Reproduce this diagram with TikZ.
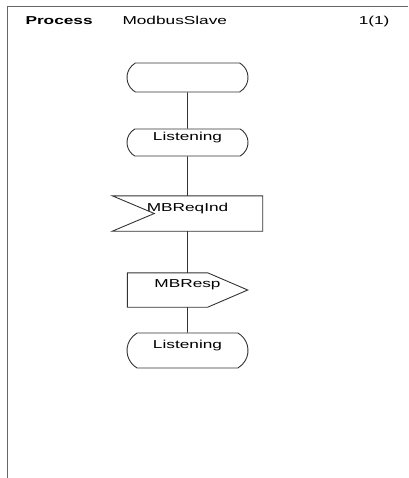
\documentclass[tikz,border=0pt]{standalone}
\usepackage{fontspec}
\setmainfont[FakeStretch=1.5]{Liberation Sans}
\usetikzlibrary{shapes.misc}

\tikzset{
  sdlline/.style={black!80, line width=0.9pt},
  state/.style={rounded rectangle, rounded rectangle arc length=120, draw=black!80,
    line width=0.9pt, minimum width=121pt, inner sep=0pt, text height=8.5pt, text depth=12pt},
  sigbox/.style={rectangle, inner sep=0pt, text height=8.5pt, text depth=13pt},
}

\begin{document}
\begin{tikzpicture}[x=1pt, y=-1pt, font=\fontsize{11.5}{14}\selectfont]
  % page setup
  \def\xmid{187.5}
  \useasboundingbox (0,0) rectangle (408,478);

  % frame
  \draw[black!60, line width=1.5pt] (408,6.5) -- (7.5,6.5) -- (7.5,478);

  % heading
  \node[anchor=base west, font=\fontsize{11.5}{14}\selectfont\bfseries] (proc) at (22,25) {Process};
  \node[anchor=base west] (pname) at (119,25) {ModbusSlave};
  \node[anchor=base east] (page) at (393,25) {1(1)};

  % symbols
  \node[state, minimum height=29pt] (start) at (\xmid,77.5) {};
  \node[state, minimum height=27pt] (listen1) at (\xmid,142.5) {Listening};
  \node[sigbox, minimum width=150pt, minimum height=35pt] (req) at (\xmid,213.5) {MBReqInd};
  \node[sigbox, minimum width=120pt, minimum height=34pt] (resp) at (\xmid,290) {MBResp};
  \node[state, minimum height=35pt] (listen2) at (\xmid,350.5) {Listening};

  % input and output outlines
  \draw[sdlline] (req.north west) -- (req.north east) -- (req.south east)
    -- (req.south west) -- ([xshift=42pt]req.west) -- cycle;
  \draw[sdlline] (resp.north west) -- ([xshift=-40pt]resp.north east) -- (resp.east)
    -- ([xshift=-40pt]resp.south east) -- (resp.south west) -- cycle;

  % flow lines
  \draw[sdlline] (start) -- (listen1);
  \draw[sdlline] (listen1) -- (req);
  \draw[sdlline] (req) -- (resp);
  \draw[sdlline] (resp) -- (listen2);
\end{tikzpicture}
\end{document}
